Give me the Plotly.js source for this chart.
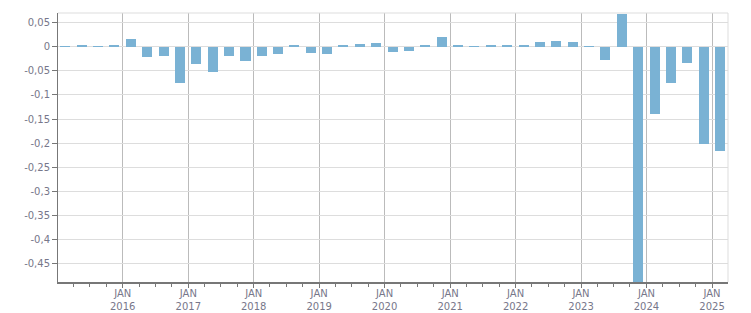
<!DOCTYPE html>
<html>
<head>
<meta charset="utf-8">
<script src="https://cdn.plot.ly/plotly-3.0.1.min.js"></script>
<style>html,body{margin:0;padding:0;background:#fff;}#chart{width:751px;height:313px;}</style>
</head>
<body>
<div id="chart"></div>
<script>
// Quarter start dates (bars are drawn at the middle of each quarter)
var quarters = [
  '2015-01-01','2015-04-01','2015-07-01','2015-10-01',
  '2016-01-01','2016-04-01','2016-07-01','2016-10-01',
  '2017-01-01','2017-04-01','2017-07-01','2017-10-01',
  '2018-01-01','2018-04-01','2018-07-01','2018-10-01',
  '2019-01-01','2019-04-01','2019-07-01','2019-10-01',
  '2020-01-01','2020-04-01','2020-07-01','2020-10-01',
  '2021-01-01','2021-04-01','2021-07-01','2021-10-01',
  '2022-01-01','2022-04-01','2022-07-01','2022-10-01',
  '2023-01-01','2023-04-01','2023-07-01','2023-10-01',
  '2024-01-01','2024-04-01','2024-07-01','2024-10-01',
  '2025-01-01'
];
var values = [
  0.002, 0.004, 0.002, 0.004,
  0.017, -0.020, -0.018, -0.0745,
  -0.035, -0.0515, -0.018, -0.0285,
  -0.018, -0.014, 0.004, -0.012,
  -0.014, 0.004, 0.006, 0.008,
  -0.010, -0.008, 0.004, 0.021,
  0.004, 0.002, 0.004, 0.004,
  0.004, 0.0105, 0.0125, 0.0105,
  0.002, -0.0265, 0.069, -0.52,
  -0.1405, -0.0745, -0.0327, -0.201,
  -0.216
];
var xTickVals = ['2016-01-01','2017-01-01','2018-01-01','2019-01-01','2020-01-01',
                 '2021-01-01','2022-01-01','2023-01-01','2024-01-01','2025-01-01'];
var xTickText = ['JAN<br>2016','JAN<br>2017','JAN<br>2018','JAN<br>2019','JAN<br>2020',
                 'JAN<br>2021','JAN<br>2022','JAN<br>2023','JAN<br>2024','JAN<br>2025'];
var yTickVals = [0.05, 0, -0.05, -0.1, -0.15, -0.2, -0.25, -0.3, -0.35, -0.4, -0.45];
var yTickText = ['0,05','0','-0,05','-0,1','-0,15','-0,2','-0,25','-0,3','-0,35','-0,4','-0,45'];

var DAY = 86400000;
var labelFont = {family: 'DejaVu Sans, Verdana, sans-serif', size: 10, color: '#77778a'};

var trace = {
  type: 'bar',
  x: quarters,
  y: values,
  xperiod: 'M3',
  xperiodalignment: 'middle',
  width: 56 * DAY,
  marker: {color: '#7ab2d4', line: {width: 0}},
  hoverinfo: 'x+y'
};

var layout = {
  width: 751,
  height: 313,
  margin: {l: 58, r: 23, t: 13, b: 31, pad: 0},
  paper_bgcolor: '#ffffff',
  plot_bgcolor: '#ffffff',
  showlegend: false,
  bargap: 0,
  xaxis: {
    type: 'date',
    range: ['2015-01-05', '2025-03-31'],
    tickmode: 'array',
    tickvals: xTickVals,
    ticktext: xTickText,
    showgrid: true,
    gridcolor: '#bbbbbb',
    gridwidth: 1,
    ticks: 'outside',
    ticklen: 4,
    tickcolor: '#777777',
    showline: true,
    linecolor: '#777777',
    linewidth: 2,
    tickfont: labelFont,
    ticklabelstandoff: -3,
    zeroline: false,
    fixedrange: true,
    minor: {dtick: 'M3', tick0: '2015-01-01', ticks: 'outside', ticklen: 3, tickcolor: '#777777', showgrid: false}
  },
  yaxis: {
    range: [-0.489, 0.0705],
    tickmode: 'array',
    tickvals: yTickVals,
    ticktext: yTickText,
    showgrid: true,
    gridcolor: '#dddddd',
    gridwidth: 1,
    zeroline: false,
    ticks: 'outside',
    ticklen: 5,
    tickcolor: '#777777',
    showline: true,
    linecolor: '#777777',
    linewidth: 1,
    tickfont: labelFont,
    fixedrange: true
  },
  shapes: [
    {type: 'line', xref: 'paper', yref: 'paper', x0: 0, x1: 1, y0: 1, y1: 1, line: {color: '#dddddd', width: 1}},
    {type: 'line', xref: 'paper', yref: 'paper', x0: 1, x1: 1, y0: 0, y1: 1, line: {color: '#dddddd', width: 1}}
  ]
};

Plotly.newPlot('chart', [trace], layout, {displayModeBar: false, staticPlot: true});
</script>
</body>
</html>
